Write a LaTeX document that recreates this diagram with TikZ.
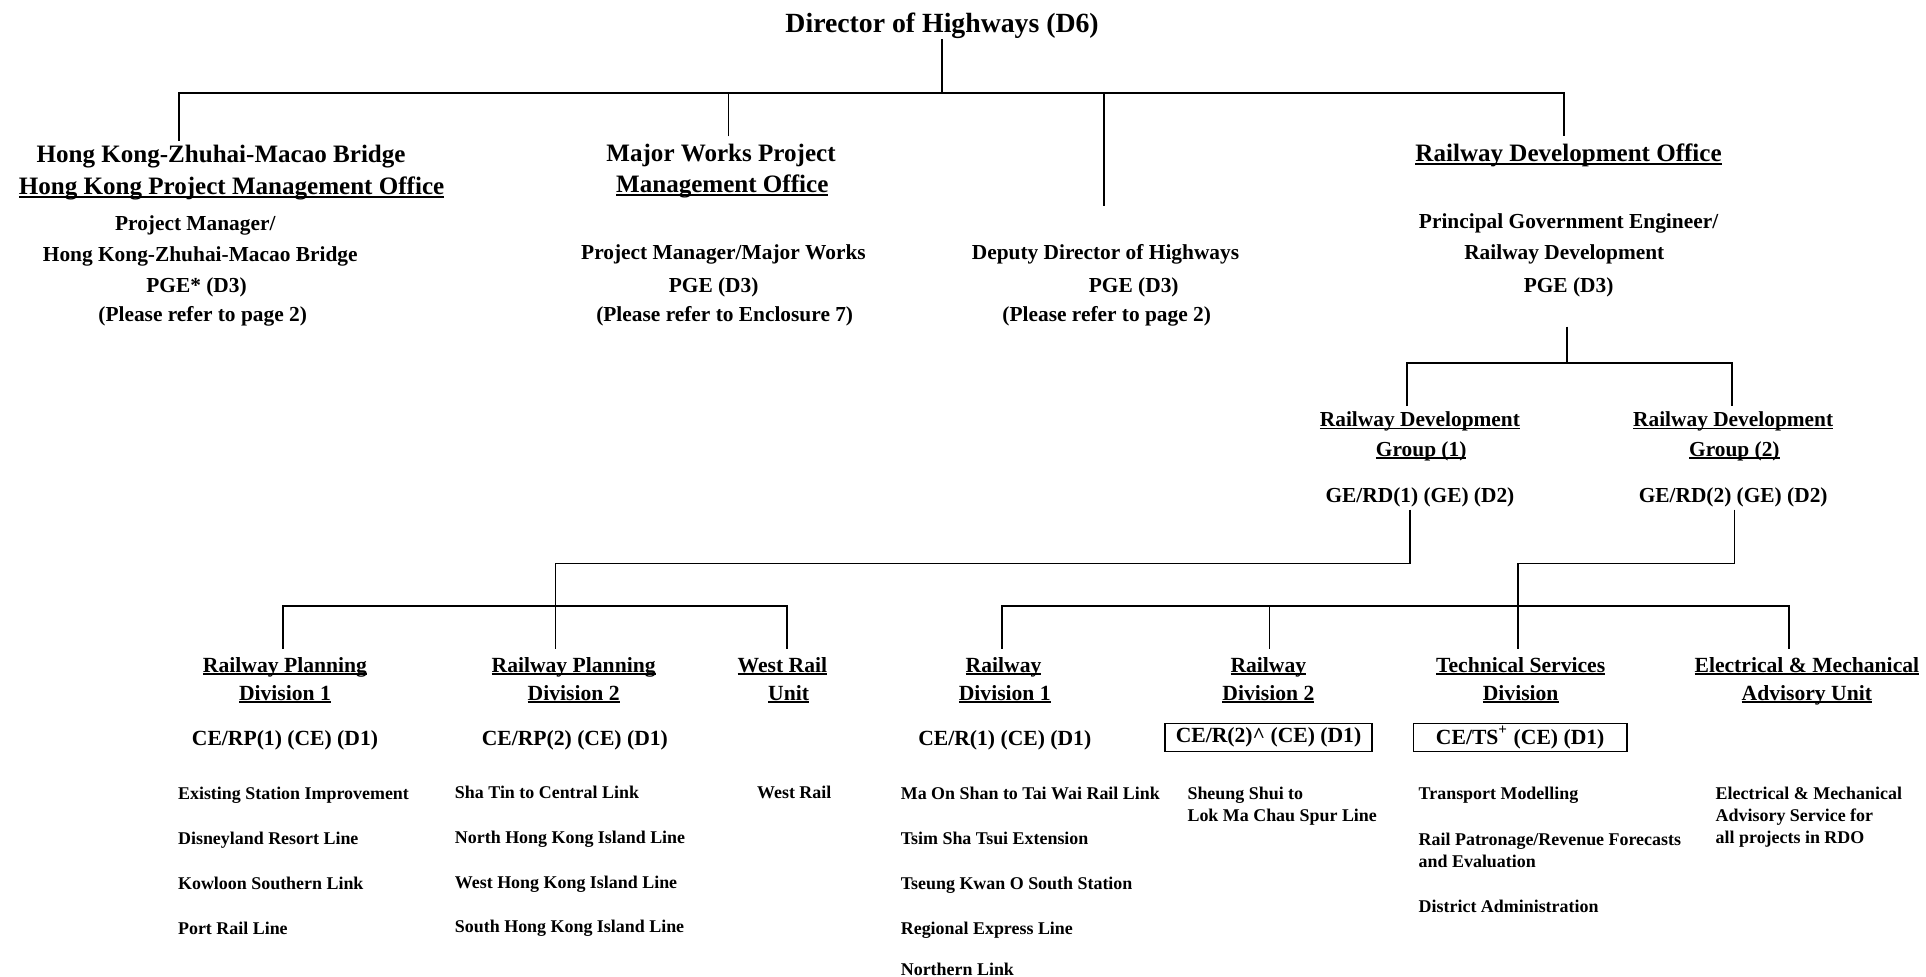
\documentclass[tikz,border=0pt]{standalone}
\usepackage{fontspec}
\setmainfont{Liberation Serif}
\newcommand{\undl}[1]{\sbox0{#1}\rlap{\rule[-0.12em]{\wd0}{0.07em}}\usebox0}

\begin{document}
\begin{tikzpicture}[
        x=0.5pt, y=-0.5pt,
        chief/.style={font=\fontsize{11.3}{13}\selectfont\bfseries, anchor=base, inner sep=0pt},
        office/.style={font=\fontsize{10.2}{12}\selectfont\bfseries, anchor=base, inner sep=0pt},
        post/.style={font=\fontsize{8.7}{10}\selectfont\bfseries, anchor=base, inner sep=0pt},
        unit/.style={font=\fontsize{8.8}{10}\selectfont\bfseries, anchor=base, inner sep=0pt},
        duty/.style={font=\fontsize{7.3}{9}\selectfont\bfseries, anchor=base west, inner sep=0pt},
        rank/.style={draw, line width=0.6pt, font=\fontsize{8.8}{10}\selectfont\bfseries, inner sep=0pt, minimum height=11.5pt},
        link/.style={line width=0.7pt}
    ]
        \useasboundingbox (0,0) rectangle (1568,795);

        \node[chief] (dir) at (767,26.5) {Director of Highways (D6)};

        \node[office] (hkz) at (180,132.5) {Hong Kong-Zhuhai-Macao Bridge};
        \node[office] (hkzpmo) at (188.5,158.5) {\undl{Hong Kong Project Management Office}};
        \node[post] (hkzpm) at (159,187.5) {Project Manager/};
        \node[post] (hkzpm2) at (163,213) {Hong Kong-Zhuhai-Macao Bridge};
        \node[post] (hkzpge) at (160,238.5) {PGE* (D3)};
        \node[post] (hkzref) at (165,262) {(Please refer to page 2)};

        \node[office] (mwp) at (587,131.5) {Major Works Project};
        \node[office] (mwpmo) at (588,157) {\undl{Management Office}};
        \node[post] (mwppm) at (589,211.5) {Project Manager/Major Works};
        \node[post] (mwppge) at (581,238.5) {PGE (D3)};
        \node[post] (mwpref) at (590,262) {(Please refer to Enclosure 7)};

        \node[post] (ddh) at (900,211.5) {Deputy Director of Highways};
        \node[post] (ddhpge) at (923,238.5) {PGE (D3)};
        \node[post] (ddhref) at (901,262) {(Please refer to page 2)};

        \node[office] (rdo) at (1277,131.5) {\undl{Railway Development Office}};
        \node[post] (rdopm) at (1277,186) {Principal Government Engineer/};
        \node[post] (rdopm2) at (1273.5,211.5) {Railway Development};
        \node[post] (rdopge) at (1277,238.5) {PGE (D3)};

        \node[post] (rdg1) at (1156,347.5) {\undl{Railway Development}};
        \node[post] (rdg1b) at (1157,371.5) {\undl{Group (1)}};
        \node[post] (gerd1) at (1156,409.5) {GE/RD(1) (GE) (D2)};

        \node[post] (rdg2) at (1411,347.5) {\undl{Railway Development}};
        \node[post] (rdg2b) at (1412,371.5) {\undl{Group (2)}};
        \node[post] (gerd2) at (1411,409.5) {GE/RD(2) (GE) (D2)};

        \node[unit] (rp1) at (232,547.4) {\undl{Railway Planning}};
        \node[unit] (rp1b) at (232,570) {\undl{Division 1}};
        \node[unit] (cerp1) at (232,606.8) {CE/RP(1) (CE) (D1)};
        \node[duty] (rp1i1) at (144.6,651) {Existing Station Improvement};
        \node[duty] (rp1i2) at (144.6,687.7) {Disneyland Resort Line};
        \node[duty] (rp1i3) at (144.6,724.4) {Kowloon Southern Link};
        \node[duty] (rp1i4) at (144.6,760.5) {Port Rail Line};

        \node[unit] (rp2) at (467,547.4) {\undl{Railway Planning}};
        \node[unit] (rp2b) at (467,570) {\undl{Division 2}};
        \node[unit] (cerp2) at (468,606.8) {CE/RP(2) (CE) (D1)};
        \node[duty] (rp2i1) at (370,650) {Sha Tin to Central Link};
        \node[duty] (rp2i2) at (370,686.5) {North Hong Kong Island Line};
        \node[duty] (rp2i3) at (370,723) {West Hong Kong Island Line};
        \node[duty] (rp2i4) at (370,759.5) {South Hong Kong Island Line};

        \node[unit] (wr) at (637,547.4) {\undl{West Rail}};
        \node[unit] (wrb) at (642,570) {\undl{Unit}};
        \node[duty] (wri1) at (616,650) {West Rail};

        \node[unit] (rd1) at (817,547.4) {\undl{Railway}};
        \node[unit] (rd1b) at (818,570) {\undl{Division 1}};
        \node[unit] (cer1) at (818,606.8) {CE/R(1) (CE) (D1)};
        \node[duty] (rd1i1) at (733,651) {Ma On Shan to Tai Wai Rail Link};
        \node[duty] (rd1i2) at (733,687.7) {Tsim Sha Tsui Extension};
        \node[duty] (rd1i3) at (733,724.4) {Tseung Kwan O South Station};
        \node[duty] (rd1i4) at (733,760.5) {Regional Express Line};
        \node[duty] (rd1i5) at (733,794.4) {Northern Link};

        \node[unit] (rd2) at (1032.6,547.4) {\undl{Railway}};
        \node[unit] (rd2b) at (1032.6,570) {\undl{Division 2}};
        \node[rank, minimum width=84.3pt] (cer2) at (1032.7,600.5) {CE/R(2)\textasciicircum{} (CE) (D1)};
        \node[duty] (rd2i1) at (966.4,651) {Sheung Shui to};
        \node[duty] (rd2i2) at (966.4,668.8) {Lok Ma Chau Spur Line};

        \node[unit] (ts) at (1238,547.4) {\undl{Technical Services}};
        \node[unit] (tsb) at (1238,570) {\undl{Division}};
        \node[rank, minimum width=87pt] (cets) at (1237.6,600.5) {CE/TS\textsuperscript{+} (CE) (D1)};
        \node[duty] (tsi1) at (1154.6,651) {Transport Modelling};
        \node[duty] (tsi2) at (1154.6,688) {Rail Patronage/Revenue Forecasts};
        \node[duty] (tsi3) at (1154.6,706.2) {and Evaluation};
        \node[duty] (tsi4) at (1154.6,742.8) {District Administration};

        \node[unit] (em) at (1471,547.4) {\undl{Electrical \& Mechanical}};
        \node[unit] (emb) at (1471,570) {\undl{Advisory Unit}};
        \node[duty] (emi1) at (1396.4,650.5) {Electrical \& Mechanical};
        \node[duty] (emi2) at (1396.4,668.8) {Advisory Service for};
        \node[duty] (emi3) at (1396.4,686.5) {all projects in RDO};

        \coordinate (top) at (767,75.5);
        \coordinate (hkzin) at (146,115);
        \coordinate (mwpin) at (593,111);
        \coordinate (ddhin) at (898.7,167.7);
        \coordinate (rdoin) at (1273.5,111);
        \draw[link] (dir.south) -- (top);
        \draw[link] (hkzin) |- (top) -| (rdoin);
        \draw[link] (mwpin) -- (mwpin |- top);
        \draw[link] (ddhin) -- (ddhin |- top);

        \coordinate (rdoout) at (1276,266);
        \coordinate (rdg) at (1276,295.3);
        \coordinate (rdg1in) at (1145.5,330.6);
        \coordinate (rdg2in) at (1410,330.6);
        \draw[link] (rdoout) -- (rdg);
        \draw[link] (rdg1in) |- (rdg) -| (rdg2in);

        \coordinate (gerd1out) at (1148,414.8);
        \coordinate (grp1) at (452.3,458.7);
        \coordinate (bus1) at (452.3,493.5);
        \coordinate (rp1in) at (230.4,528);
        \coordinate (rp2in) at (452.3,528);
        \coordinate (wrin) at (640.8,528);
        \draw[link] (gerd1out) |- (grp1) -- (rp2in);
        \draw[link] (rp1in) |- (bus1) -| (wrin);

        \coordinate (gerd2out) at (1412,414.8);
        \coordinate (grp2) at (1236,458.7);
        \coordinate (bus2) at (1236,493.5);
        \coordinate (rd1in) at (816,528);
        \coordinate (rd2in) at (1033.6,528);
        \coordinate (tsin) at (1236,528);
        \coordinate (emin) at (1456.6,528);
        \draw[link] (gerd2out) |- (grp2) -- (tsin);
        \draw[link] (rd1in) |- (bus2) -| (emin);
        \draw[link] (rd2in) -- (rd2in |- bus2);
    \end{tikzpicture}
\end{document}
